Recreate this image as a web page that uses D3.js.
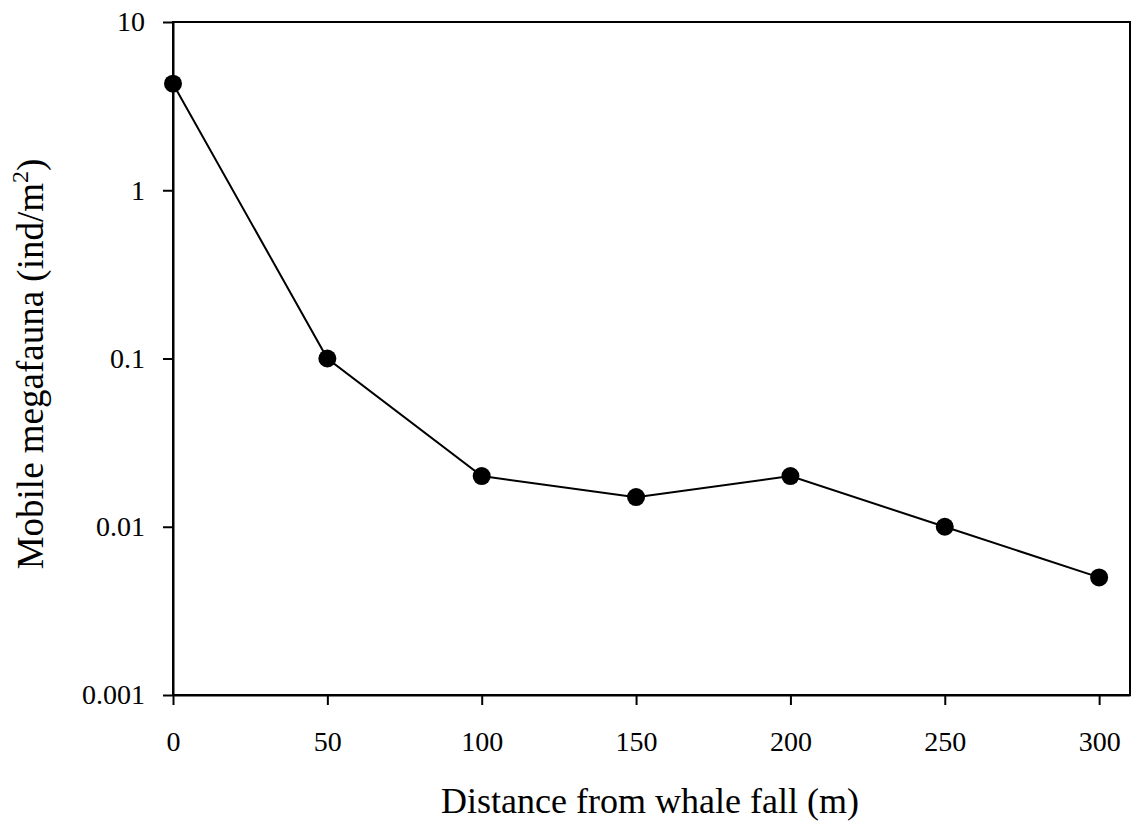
<!DOCTYPE html>
<html>
<head>
<meta charset="utf-8">
<script src="https://cdn.jsdelivr.net/npm/d3@7"></script>
<style>
  html, body { margin: 0; padding: 0; background: #fff; }
  svg { display: block; }
  text { font-family: "Liberation Serif", "Times New Roman", serif; fill: #000; }
</style>
</head>
<body>
<div id="app"></div>
<script>
// Values
const distances = [0, 50, 100, 150, 200, 250, 300];
const abundance = [4.3, 0.1, 0.02, 0.015, 0.02, 0.01, 0.005];
const xTicks = [0, 50, 100, 150, 200, 250, 300];
const yTicks = [0.001, 0.01, 0.1, 1, 10];
const yTickLabels = ['0.001', '0.01', '0.1', '1', '10'];

const svgWidth = 1132;
const svgHeight = 829;
const margin = { top: 22, right: 2, bottom: 134, left: 173 };
const width = svgWidth - margin.left - margin.right;
const height = svgHeight - margin.top - margin.bottom;

const svg = d3.select('#app')
  .append('svg')
  .attr('width', svgWidth)
  .attr('height', svgHeight);

const chart = svg.append('g')
  .attr('transform', `translate(${margin.left},${margin.top})`);

const x = d3.scaleLinear().domain([0, 310]).range([0, width]);
const y = d3.scaleLog().domain([0.001, 10]).range([height, 0]);

// frame (top and right sides)
chart.append('rect')
  .attr('width', width)
  .attr('height', height)
  .attr('fill', 'none')
  .attr('stroke', '#000')
  .attr('stroke-width', 2);

const xAxis = chart.append('g')
  .attr('transform', `translate(0,${height})`)
  .call(d3.axisBottom(x).tickValues(xTicks).tickSize(10).tickPadding(26).tickSizeOuter(0));

const yAxis = chart.append('g')
  .call(d3.axisLeft(y).tickValues(yTicks)
    .tickFormat((d, i) => yTickLabels[i]).tickSize(10).tickPadding(18).tickSizeOuter(0));

[xAxis, yAxis].forEach((axis) => {
  axis.attr('font-size', 28).attr('font-family', '"Liberation Serif", "Times New Roman", serif');
  axis.select('.domain').attr('stroke-width', 2);
  axis.selectAll('.tick line').attr('stroke-width', 2);
});

const line = d3.line()
  .x((d, i) => x(distances[i]))
  .y((d) => y(d));

chart.append('path')
  .datum(abundance)
  .attr('fill', 'none')
  .attr('stroke', '#000')
  .attr('stroke-width', 2)
  .attr('d', line);

chart.selectAll('circle')
  .data(abundance)
  .join('circle')
  .attr('cx', (d, i) => x(distances[i]))
  .attr('cy', (d) => y(d))
  .attr('r', 9)
  .attr('fill', '#000');

// axis titles
svg.append('text')
  .attr('x', 650)
  .attr('y', 813)
  .attr('text-anchor', 'middle')
  .attr('font-size', 36)
  .text('Distance from whale fall (m)');

const yTitle = svg.append('text')
  .attr('transform', 'translate(43,364) rotate(-90)')
  .attr('text-anchor', 'middle')
  .attr('font-size', 37);
yTitle.append('tspan').text('Mobile megafauna (ind/m');
yTitle.append('tspan').attr('font-size', 24).attr('dy', -15).text('2');
yTitle.append('tspan').attr('dy', 15).text(')');
</script>
</body>
</html>
